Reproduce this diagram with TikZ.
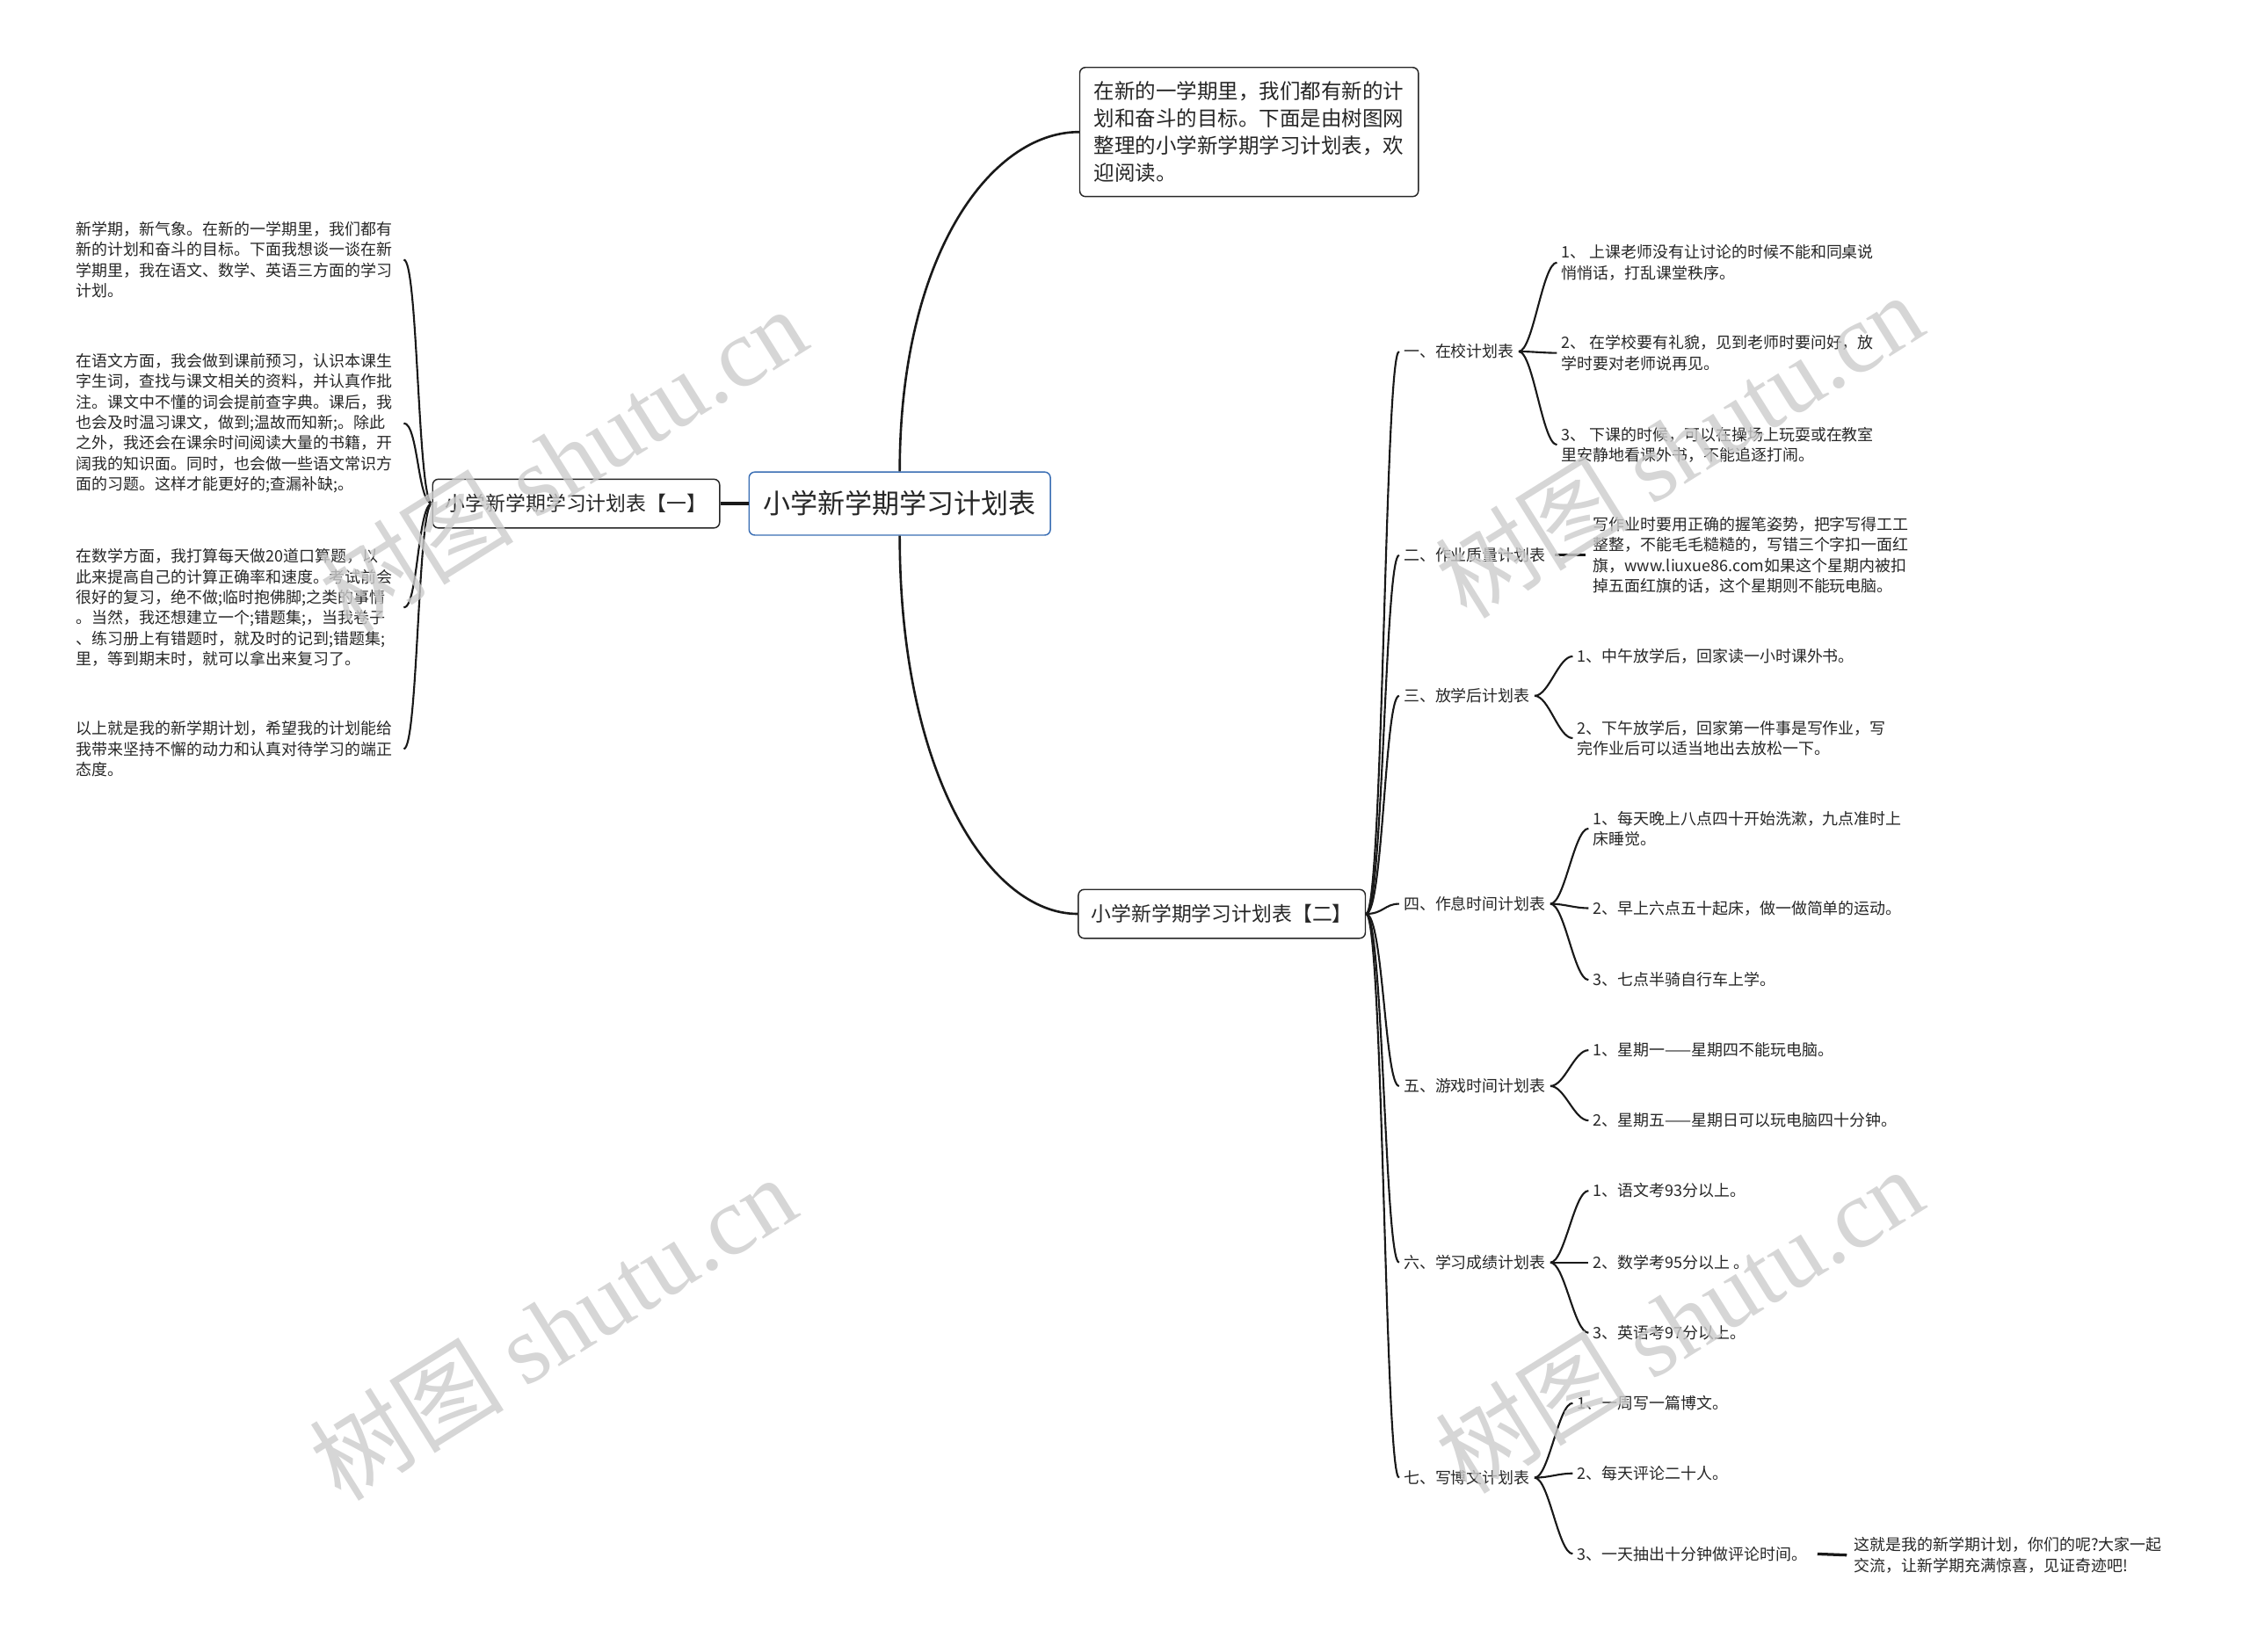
\documentclass[tikz,border=0pt]{standalone}
\usepackage{fontspec}
\setmainfont{Noto Sans CJK SC}
\newfontfamily\markfont{Liberation Serif}
\usetikzlibrary{positioning, calc}
\definecolor{rootblue}{HTML}{3A6EB4}

\begin{document}
\begin{tikzpicture}[
    x=1pt, y=-1pt,
    font=\fontsize{11}{14.3}\selectfont,
    box/.style={draw, rounded corners=4pt, fill=white, line width=0.9pt, align=center, text=black!85},
    central/.style={box, draw=rootblue, font=\fontsize{19}{22}\selectfont, minimum width=210pt, minimum height=44pt},
    branch/.style={box, draw=black!85, font=\fontsize{14}{17}\selectfont, minimum width=200pt, minimum height=34pt},
    intro/.style={box, align=left, draw=black!85, font=\fontsize{14.4}{19}\selectfont, minimum width=236pt, minimum height=90pt, anchor=west},
    topic/.style={anchor=west, inner xsep=3pt, inner ysep=1pt, align=left, text=black!85},
    para/.style={topic, text width=225pt},
    link/.style={draw=black!90, line width=1.3pt},
    trunk/.style={link, line width=1.6pt},
    watermark/.style={text=black!20, rotate=32, font=\fontsize{68}{68}\selectfont, opacity=0.8}
]
\useasboundingbox (0,0) rectangle (1568,1151);

% Centre and the two halves
\node[central] (root) at (627,351) {小学新学期学习计划表};
\node[branch] (part_one) at (401.5,351) {小学新学期学习计划表【一】};
\node[branch] (part_two) at (851.5,637) {小学新学期学习计划表【二】};
\node[intro] (intro) at (752,92) {在新的一学期里，我们都有新的计\\划和奋斗的目标。下面是由树图网\\整理的小学新学期学习计划表，欢\\迎阅读。};

% Left half: paragraphs
\node[para] (para_open) at (50,181) {新学期，新气象。在新的一学期里，我们都有\\新的计划和奋斗的目标。下面我想谈一谈在新\\学期里，我在语文、数学、英语三方面的学习\\计划。};
\node[para] (para_chinese) at (50,295) {在语文方面，我会做到课前预习，认识本课生\\字生词，查找与课文相关的资料，并认真作批\\注。课文中不懂的词会提前查字典。课后，我\\也会及时温习课文，做到;温故而知新;。除此\\之外，我还会在课余时间阅读大量的书籍，开\\阔我的知识面。同时，也会做一些语文常识方\\面的习题。这样才能更好的;查漏补缺;。};
\node[para] (para_math) at (50,423.5) {在数学方面，我打算每天做20道口算题，以\\此来提高自己的计算正确率和速度。考试前会\\很好的复习，绝不做;临时抱佛脚;之类的事情\\。当然，我还想建立一个;错题集;，当我卷子\\、练习册上有错题时，就及时的记到;错题集;\\里，等到期末时，就可以拿出来复习了。};
\node[para] (para_close) at (50,522) {以上就是我的新学期计划，希望我的计划能给\\我带来坚持不懈的动力和认真对待学习的端正\\态度。};

% Right half: seven plans
\node[topic] (school) at (975,245) {一、在校计划表};
\node[topic] (homework) at (975,387) {二、作业质量计划表};
\node[topic] (afterclass) at (975,485) {三、放学后计划表};
\node[topic] (routine) at (975,630) {四、作息时间计划表};
\node[topic] (gametime) at (975,757) {五、游戏时间计划表};
\node[topic] (grades) at (975,880) {六、学习成绩计划表};
\node[topic] (blogging) at (975,1030) {七、写博文计划表};

% Plan details
\node[topic] (school_a) at (1085,183) {1、 上课老师没有让讨论的时候不能和同桌说\\悄悄话，打乱课堂秩序。};
\node[topic] (school_b) at (1085,246) {2、 在学校要有礼貌，见到老师时要问好，放\\学时要对老师说再见。};
\node[topic] (school_c) at (1085,310) {3、 下课的时候，可以在操场上玩耍或在教室\\里安静地看课外书，不能追逐打闹。};
\node[topic] (hw_text) at (1107,387) {写作业时要用正确的握笔姿势，把字写得工工\\整整，不能毛毛糙糙的，写错三个字扣一面红\\旗，www.liuxue86.com如果这个星期内被扣\\掉五面红旗的话，这个星期则不能玩电脑。};
\node[topic] (after_a) at (1096,457.5) {1、中午放学后，回家读一小时课外书。};
\node[topic] (after_b) at (1096,514.5) {2、下午放学后，回家第一件事是写作业，写\\完作业后可以适当地出去放松一下。};
\node[topic] (routine_a) at (1107,577.5) {1、每天晚上八点四十开始洗漱，九点准时上\\床睡觉。};
\node[topic] (routine_b) at (1107,633) {2、早上六点五十起床，做一做简单的运动。};
\node[topic] (routine_c) at (1107,683) {3、七点半骑自行车上学。};
\node[topic] (game_a) at (1107,732) {1、星期一——星期四不能玩电脑。};
\node[topic] (game_b) at (1107,781) {2、星期五——星期日可以玩电脑四十分钟。};
\node[topic] (grade_a) at (1107,830) {1、语文考93分以上。};
\node[topic] (grade_b) at (1107,880) {2、数学考95分以上 。};
\node[topic] (grade_c) at (1107,929) {3、英语考97分以上。};
\node[topic] (blog_a) at (1096,978) {1、一周写一篇博文。};
\node[topic] (blog_b) at (1096,1027) {2、每天评论二十人。};
\node[topic] (blog_c) at (1096,1083) {3、一天抽出十分钟做评论时间。};
\node[topic] (blog_end) at (1289,1084) {这就是我的新学期计划，你们的呢?大家一起\\交流，让新学期充满惊喜，见证奇迹吧!};

% Connections
\draw[link, line width=2.6pt] (root.west) -- (part_one.east);
\draw[trunk] (root.north) .. controls +(0,-150) and +(-62,0) .. (intro.west);
\draw[trunk] (root.south) .. controls +(0,165) and +(-62,0) .. (part_two.west);

\foreach \p in {para_open, para_chinese, para_math, para_close}
    \draw[link] (part_one.west) .. controls +(-10,0) and +(10,0) .. (\p.east);

\foreach \t in {school, homework, afterclass, routine, gametime, grades, blogging}
    \draw[link] (part_two.east) .. controls +(12,0) and +(-10,0) .. (\t.west);

\foreach \c in {school_a, school_b, school_c}
    \draw[link] (school.east) .. controls +(10,0) and +(-10,0) .. (\c.west);
\foreach \c in {after_a, after_b}
    \draw[link] (afterclass.east) .. controls +(10,0) and +(-10,0) .. (\c.west);
\foreach \c in {routine_a, routine_b, routine_c}
    \draw[link] (routine.east) .. controls +(10,0) and +(-10,0) .. (\c.west);
\foreach \c in {game_a, game_b}
    \draw[link] (gametime.east) .. controls +(10,0) and +(-10,0) .. (\c.west);
\foreach \c in {grade_a, grade_b, grade_c}
    \draw[link] (grades.east) .. controls +(10,0) and +(-10,0) .. (\c.west);
\foreach \c in {blog_a, blog_b, blog_c}
    \draw[link] (blogging.east) .. controls +(10,0) and +(-10,0) .. (\c.west);

\draw[link, line width=2pt, shorten <=3pt, shorten >=2pt] (homework.east) -- (hw_text.west);
\draw[link, line width=2pt, shorten <=4pt, shorten >=2pt] (blog_c.east) -- (blog_end.west);

% Watermarks
\node[watermark] (mark_ul) at (392,320) {树图 {\markfont shutu.cn}};
\node[watermark] (mark_ur) at (1170,310) {树图 {\markfont shutu.cn}};
\node[watermark] (mark_ll) at (385,925) {树图 {\markfont shutu.cn}};
\node[watermark] (mark_lr) at (1170,920) {树图 {\markfont shutu.cn}};

\end{tikzpicture}
\end{document}
